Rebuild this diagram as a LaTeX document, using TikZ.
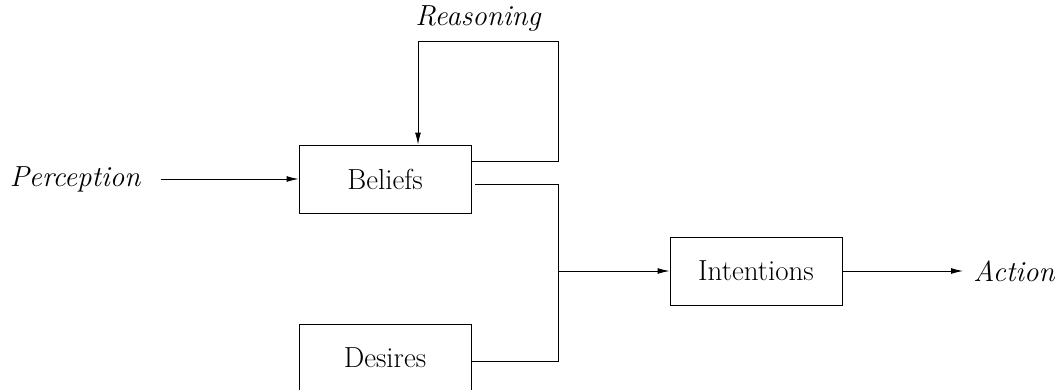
\documentclass[tikz,border=0pt]{standalone}
\usepackage{amsmath}
\usepackage{tikz}
\usetikzlibrary{arrows.meta, positioning, calc}

\tikzset{
  blockbox/.style={draw, minimum width=3.44cm, minimum height=1.36cm, inner sep=0pt, font=\fontsize{16.5}{20}\selectfont},
  flowtext/.style={font=\fontsize{16.5}{20}\selectfont\itshape, inner sep=0pt},
  flow/.style={-{Latex[length=2.4mm, width=1.2mm]}, line width=0.55pt}
}

\begin{document}
\begin{tikzpicture}[x=0.02cm, y=-0.02cm, line width=0.55pt]
\useasboundingbox (0,0) rectangle (1057,389);
% boxes
\node[blockbox] (beliefs) at (385,179) {Beliefs};
\node[blockbox] (desires) at (385,358) {Desires};
\node[blockbox] (intentions) at (756,271) {Intentions};
% outside texts
\node[flowtext] (perception) at (75,179) {Perception};
\node[flowtext] (reasoning) at (478,19) {Reasoning};
\node[flowtext, anchor=east] (action) at (1055,271) {Action};
\coordinate (loop) at (558,41);
\coordinate (join) at (558,271);
\coordinate (out) at (963,271);
% connectors
\draw[flow] (perception.east |- beliefs.west) ++(0.4cm,0) -- (beliefs.west);
\draw[flow] ([yshift=0.36cm]beliefs.east) -| (loop) -| ([xshift=0.66cm]beliefs.north);
\draw ([xshift=0.08cm, yshift=-0.1cm]beliefs.east) -| (join);
\draw ([yshift=-0.06cm]desires.east) -| (join);
\draw[flow] (join) -- (intentions.west);
\draw[flow] (intentions.east) -- (out);
\end{tikzpicture}
\end{document}
